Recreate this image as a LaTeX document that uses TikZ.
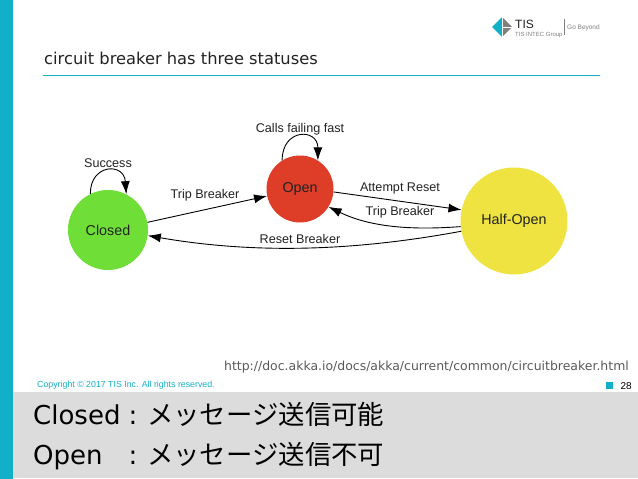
\documentclass[tikz,border=0pt]{standalone}
\usepackage{fontspec}
\setmainfont{Liberation Sans}
\newfontfamily\djv{DejaVu Sans}
\newfontfamily\cjk{Noto Sans CJK JP}
\usetikzlibrary{arrows.meta}
\definecolor{tealc}{HTML}{12B0C8}
\definecolor{bandc}{HTML}{DCDCDC}
\definecolor{greenc}{HTML}{6FDF38}
\definecolor{redc}{HTML}{DE3D28}
\definecolor{yellowc}{HTML}{EEE340}
\definecolor{txtc}{HTML}{222222}
\tikzset{
  x=1pt,y=-1pt,
  state/.style={circle,inner sep=0pt,font=\fontsize{14.3}{14}\selectfont,text=txtc},
  edge/.style={draw=black,line width=0.9pt,-{Latex[length=13pt,width=9pt]}},
  elabel/.style={font=\fontsize{12.6}{14}\selectfont,text=txtc,inner sep=0pt},
  bandtext/.style={anchor=base west,inner sep=0pt,font=\fontsize{26}{30}\selectfont,text=black},
}
\newcommand{\bandline}[2]{\makebox[95.5pt][l]{\djv #1}\makebox[18.5pt][l]{\djv :}{\cjk\fontsize{26.4}{30}\selectfont #2}}
\begin{document}
\begin{tikzpicture}
\useasboundingbox (0,0) rectangle (638,479);
\fill[white] (0,0) rectangle (638,479);
\fill[tealc] (0,0) rectangle (13,479);
\fill[bandc] (13,392) rectangle (638,478);
\fill[tealc] (43,74.5) rectangle (600,76);
\node[anchor=base west,inner sep=0pt,text=txtc] (title) at (44,64) {\djv\fontsize{16.3}{18}\selectfont circuit breaker has three statuses};
% logo
\fill[tealc] (492,27) -- (502,17) -- (502,37) -- cycle;
\fill[gray] (502,17) -- (512,27) -- (502,37) -- cycle;
\draw[white,line width=0.6pt] (502,17) -- (502,37) (502,27) -- (512,27);
\node[anchor=base west,inner sep=0pt,text=txtc] (tis) at (515,28) {\fontsize{12}{13}\selectfont TIS};
\node[anchor=base west,inner sep=0pt,text=gray] (group) at (515,36) {\fontsize{6}{6}\selectfont TIS INTEC Group};
\draw[gray,line width=0.4pt] (564,19) -- (564,35);
\node[anchor=base west,inner sep=0pt,text=gray] (beyond) at (567,30) {\fontsize{6.5}{6.5}\selectfont Go Beyond};
% states
\node[state,fill=greenc,minimum size=80pt] (closed) at (108,230) {Closed};
\node[state,fill=redc,minimum size=67pt] (open) at (300,189) {Open};
\node[state,fill=yellowc,minimum size=107pt] (half) at (514,221) {Half-Open};
% edges
\draw[edge] (closed.116) .. controls (90,164) and (124,162) .. (closed.63);
\draw[edge] (open.122) .. controls (282,128) and (318,128) .. (open.58);
\draw[edge] (closed.11) -- (open.192);
\draw[edge] (open.355) -- (half.168);
\draw[edge] (half.186) .. controls (415,230) and (372,228) .. (open.328);
\draw[edge] (half.191) .. controls (360,250) and (260,255) .. (closed.352);
% labels
\node[elabel] (lsucc) at (108,163) {Success};
\node[elabel] (ltrip1) at (205,195) {Trip Breaker};
\node[elabel] (lcalls) at (300,129) {Calls failing fast};
\node[elabel] (latt) at (400,188) {Attempt Reset};
\node[elabel] (ltrip2) at (400,212) {Trip Breaker};
\node[elabel] (lreset) at (300,239) {Reset Breaker};
% footer
\node[anchor=base east,inner sep=0pt,text=black!65] (url) at (629,370) {\djv\fontsize{12.46}{14}\selectfont http://doc.akka.io/docs/akka/current/common/circuitbreaker.html};
\node[anchor=base west,inner sep=0pt,text=tealc] (copy) at (37,387) {\fontsize{8.8}{10}\selectfont Copyright © 2017 TIS Inc. All rights reserved.};
\fill[tealc] (605.5,382) rectangle (613,389);
\node[anchor=base east,inner sep=0pt,text=black] (pg) at (632,389) {\fontsize{10}{11}\selectfont 28};
\node[bandtext] (l1) at (33,424) {\bandline{Closed}{メッセージ送信可能}};
\node[bandtext] (l2) at (33,464) {\bandline{Open}{メッセージ送信不可}};
\end{tikzpicture}
\end{document}
